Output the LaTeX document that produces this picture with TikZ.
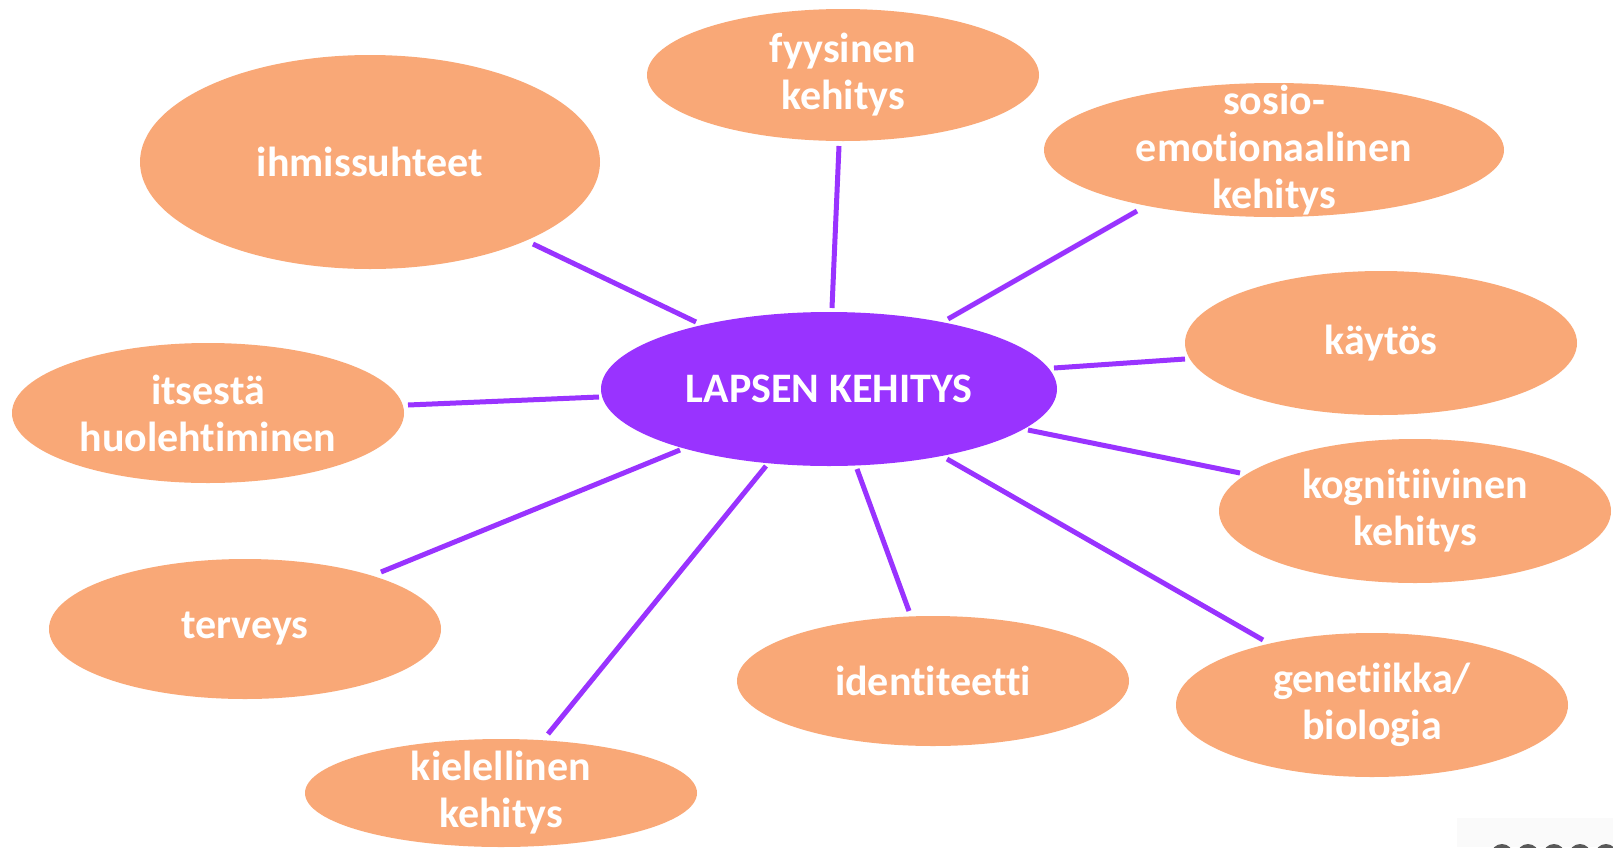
\documentclass[tikz,border=0pt]{standalone}
\usepackage{fontspec}
\setmainfont{Carlito}[RawFeature={-liga}]
\definecolor{orangefill}{HTML}{F9A877}
\definecolor{purplefill}{HTML}{9933FF}
\definecolor{linepurple}{HTML}{9933FF}
\usetikzlibrary{shapes.geometric}
\tikzset{
  bubble/.style={ellipse, fill=orangefill, draw=none, inner sep=0pt},
  hub/.style={ellipse, fill=purplefill, draw=none, inner sep=0pt},
  txt/.style={align=center, inner sep=0pt, text=white,
    font=\bfseries\fontsize{21}{23.5}\selectfont},
  link/.style={draw=linepurple, line width=2.5pt}
}
\begin{document}
\begin{tikzpicture}[x=0.5pt,y=-0.5pt]
\useasboundingbox (0,0) rectangle (1613,847);
\fill[white] (0,0) rectangle (1613,847);
% faint artifact bottom right
\begin{scope}
\clip (0,0) rectangle (1613,847);
\fill[gray!4] (1457,818) rectangle (1613,847);
\foreach \xx in {1502,1528,1554,1580,1606}{\fill[black!65] (\xx,855) circle (11);}
\end{scope}
% nodes
\node[hub, minimum width=228pt, minimum height=77pt] (c) at (829,389) {};
\node[txt] (ctxt) at (c) {LAPSEN KEHITYS};
\node[bubble, minimum width=196pt, minimum height=66pt] (fyy) at (843,75) {};
\node[txt] (fyytxt) at (fyy) {fyysinen\\kehitys};
\node[bubble, minimum width=230pt, minimum height=107pt] (ihm) at (370,162) {};
\node[txt] (ihmtxt) at (ihm) {ihmissuhteet};
\node[bubble, minimum width=230pt, minimum height=67pt] (sos) at (1274,150) {};
\node[txt] (sostxt) at (sos) {sosio-\\emotionaalinen\\kehitys};
\node[bubble, minimum width=196pt, minimum height=72pt] (kay) at (1381,343) {};
\node[txt] (kaytxt) at (kay) {käytös};
\node[bubble, minimum width=196pt, minimum height=70pt] (its) at (208,413) {};
\node[txt] (itstxt) at (its) {itsestä\\huolehtiminen};
\node[bubble, minimum width=196pt, minimum height=72pt] (kog) at (1415,511) {};
\node[txt] (kogtxt) at (kog) {kognitiivinen\\kehitys};
\node[bubble, minimum width=196pt, minimum height=70pt] (ter) at (245,629) {};
\node[txt] (tertxt) at (ter) {terveys};
\node[bubble, minimum width=196pt, minimum height=65pt] (ide) at (933,681) {};
\node[txt] (idetxt) at (ide) {identiteetti};
\node[bubble, minimum width=196pt, minimum height=72pt] (gen) at (1372,705) {};
\node[txt] (gentxt) at (gen) {genetiikka/\\biologia};
\node[bubble, minimum width=196pt, minimum height=54pt] (kie) at (501,793) {};
\node[txt] (kietxt) at (kie) {kielellinen\\kehitys};
% connector ends
\coordinate (ihmA) at (533,244); \coordinate (ihmB) at (696,322);
\coordinate (fyyA) at (839,146); \coordinate (fyyB) at (832,308);
\coordinate (sosA) at (1137,211); \coordinate (sosB) at (948,319);
\coordinate (kayA) at (1185,359); \coordinate (kayB) at (1054,368);
\coordinate (itsA) at (408,405); \coordinate (itsB) at (599,397);
\coordinate (kogA) at (1240,473); \coordinate (kogB) at (1028,430);
\coordinate (terA) at (381,572); \coordinate (terB) at (680,450);
\coordinate (kieA) at (548,734); \coordinate (kieB) at (766,466);
\coordinate (ideA) at (909,611); \coordinate (ideB) at (857,469);
\coordinate (genA) at (1263,640); \coordinate (genB) at (947,459);
\foreach \n in {ihm,fyy,sos,kay,its,kog,ter,kie,ide,gen}{\draw[link] (\n A) -- (\n B);}
\end{tikzpicture}
\end{document}
